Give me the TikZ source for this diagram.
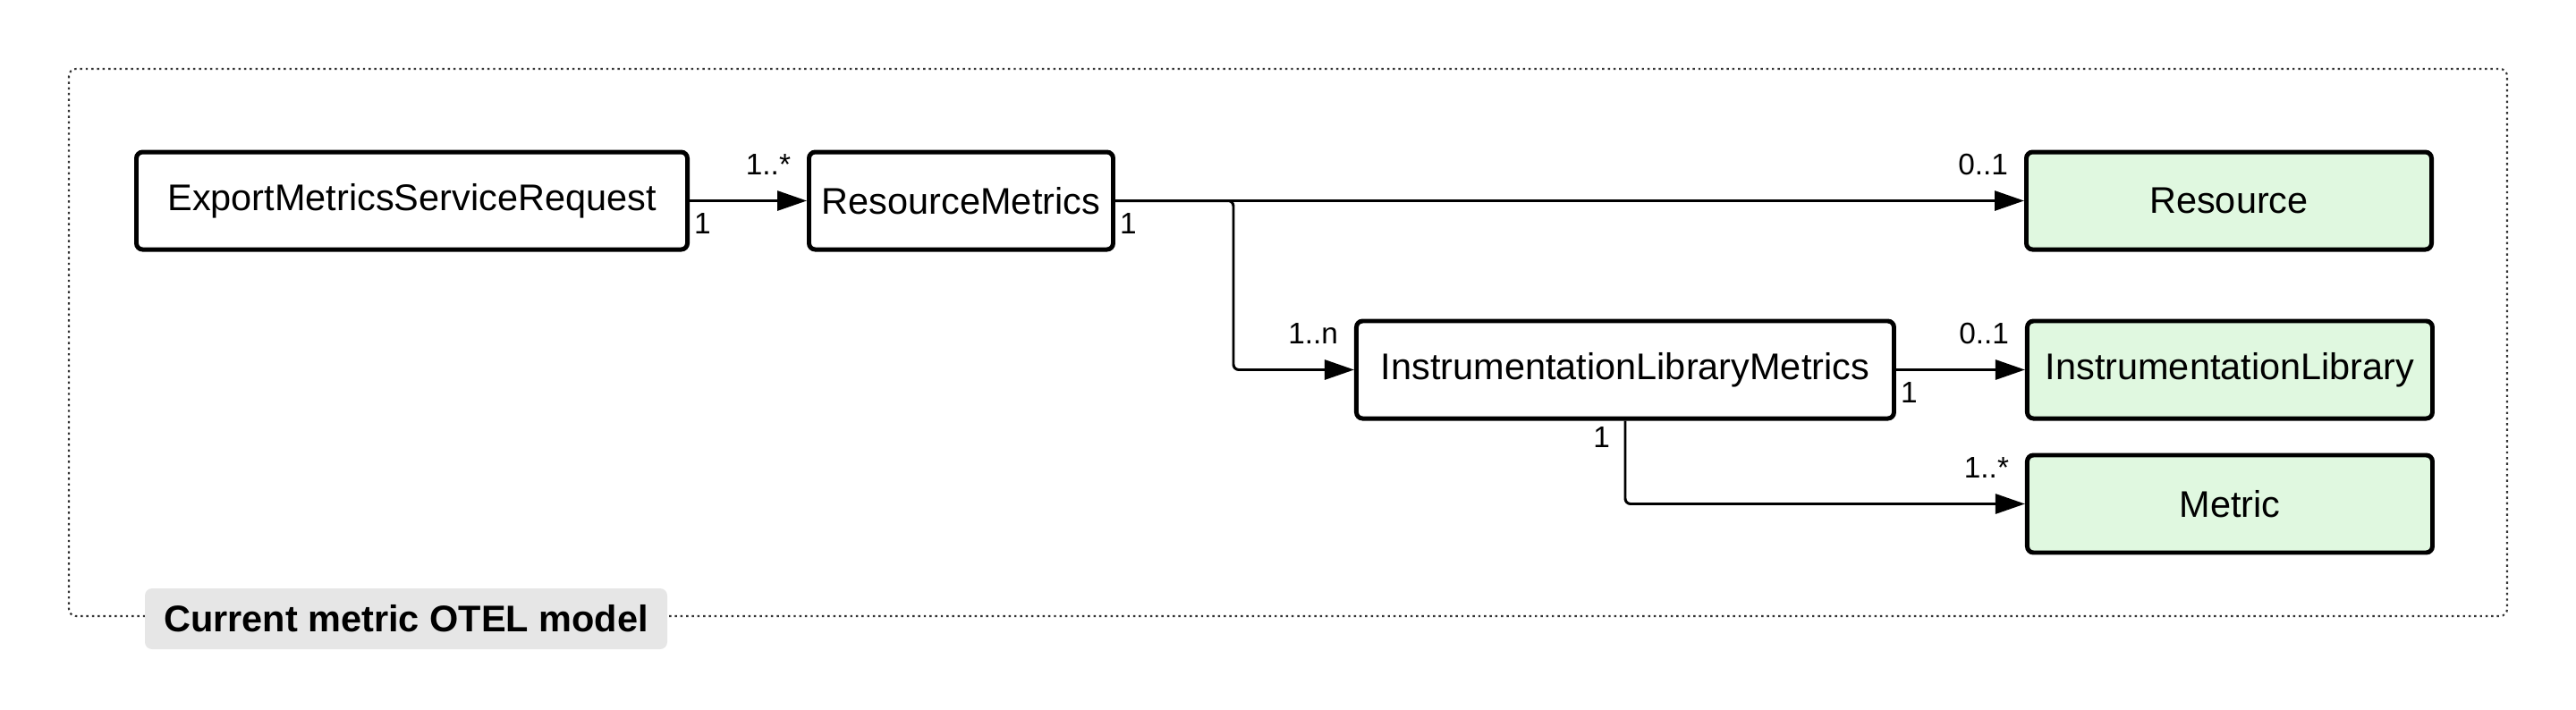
\documentclass[tikz,border=0pt]{standalone}
\usepackage{fontspec}
\usepackage{xcolor}
\setmainfont{Liberation Sans}
\usetikzlibrary{positioning,arrows.meta}
\definecolor{leafgreen}{RGB}{224,248,224}
\definecolor{taggray}{RGB}{230,230,230}

\begin{document}
\begin{tikzpicture}[
    node distance=1.31cm and 1.31cm,
    block/.style={
        rectangle,
        draw,
        fill=white,
        text centered,
        rounded corners=0.07cm,
        minimum height=1.09cm,
        inner sep=0pt,
        line width=1.42pt,
        font=\fontsize{11.8}{14}\selectfont
    },
    leaf/.style={
        block,
        fill=leafgreen,
        minimum width=4.53cm
    },
    assoc/.style={
        draw,
        -{Triangle[length=0.33cm,width=0.22cm]},
        line width=0.85pt,
        color=black
    },
    mult/.style={
        font=\fontsize{9.5}{11}\selectfont,
        inner sep=1pt
    },
    frame/.style={
        draw,
        dash pattern=on 0.7pt off 1.1pt,
        line width=0.6pt,
        rounded corners=0.08cm,
        color=black!80
    },
    tag/.style={
        fill=taggray,
        rounded corners=0.08cm,
        minimum width=5.84cm,
        minimum height=0.68cm,
        font=\bfseries\fontsize{11.8}{14}\selectfont
    }
]

    \useasboundingbox (0,0) rectangle (28.8,-7.93);

    % --- Outer frame and its title ---
    \draw [frame] (0.77,-0.77) rectangle (28.03,-6.89);
    \node [tag] (title) at (4.54,-6.92) {Current metric OTEL model};

    % --- Top Row: request and resource metrics ---
    \node [block, minimum width=6.16cm] (esr) at (4.605,-2.245) {ExportMetricsServiceRequest};
    \node [block, minimum width=3.40cm, right=1.31cm of esr] (rm) {ResourceMetrics};
    \node [leaf, right=10.16cm of rm] (res) {Resource};

    % --- Lower rows: library metrics ---
    \node [block, minimum width=6.01cm, below right=0.75cm and 2.67cm of rm] (ilm) {InstrumentationLibraryMetrics};
    \node [leaf, right=1.44cm of ilm] (il) {InstrumentationLibrary};
    \node [leaf, below=0.36cm of il] (met) {Metric};

    % --- Connections ---

    % 1. Request -> ResourceMetrics
    \path [assoc] (esr.east) -- (rm.west)
        node [mult, pos=0, below right=0.09cm and 0cm] {1}
        node [mult, pos=1, above left=0.24cm and 0.13cm] {1..*};

    % 2. ResourceMetrics -> Resource
    \path [assoc] (rm.east) -- (res.west)
        node [mult, pos=0, below right=0.09cm and 0cm] {1}
        node [mult, pos=1, above left=0.24cm and 0.13cm] {0..1};

    % 3. ResourceMetrics -> InstrumentationLibraryMetrics (branch down)
    \path [assoc, rounded corners=0.06cm] (rm.east) -- ++(1.32,0) |- (ilm.west)
        node [mult, pos=1, above left=0.24cm and 0.13cm] {1..n};

    % 4. InstrumentationLibraryMetrics -> InstrumentationLibrary
    \path [assoc] (ilm.east) -- (il.west)
        node [mult, pos=0, below right=0.09cm and 0cm] {1}
        node [mult, pos=1, above left=0.24cm and 0.13cm] {0..1};

    % 5. InstrumentationLibraryMetrics -> Metric
    \path [assoc, rounded corners=0.06cm] (ilm.south) |- (met.west)
        node [mult, pos=0, below left=0.02cm and 0.12cm] {1}
        node [mult, pos=1, above left=0.24cm and 0.13cm] {1..*};

\end{tikzpicture}
\end{document}
